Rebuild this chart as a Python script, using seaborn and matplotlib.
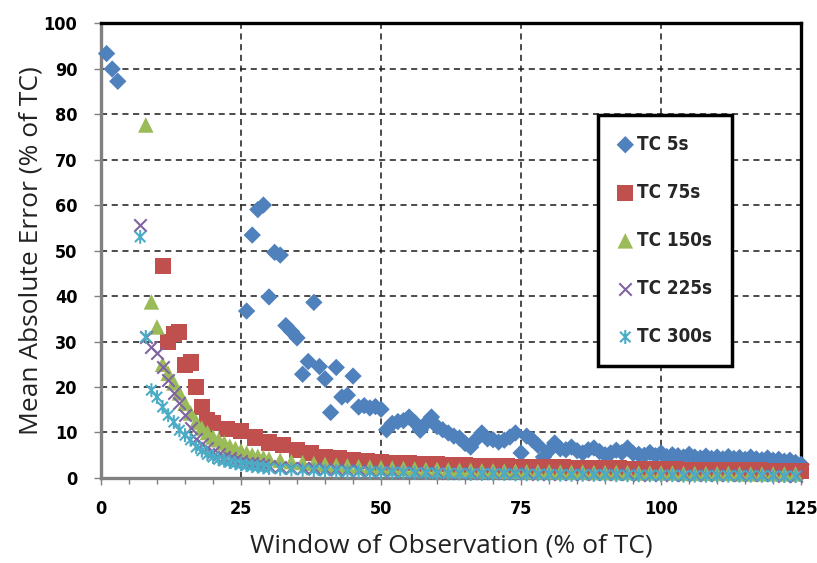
import matplotlib
matplotlib.use("Agg")
import matplotlib.pyplot as plt
from matplotlib.path import Path
from matplotlib.ticker import MultipleLocator
from matplotlib.font_manager import FontProperties
import numpy as np
import pandas as pd
import seaborn as sns

# ---------------- data ----------------
series_names = ["TC 5s", "TC 75s", "TC 150s", "TC 225s", "TC 300s"]

x_tc5 = [1, 2, 3] + list(range(26, 126))
y_tc5 = [93.3, 89.9, 87.2,
         36.7, 53.4, 59.0, 60.0, 39.8, 49.6, 49.0, 33.5, 32.2, 30.8,
         22.8, 25.6, 38.6, 24.5, 21.8, 14.4, 24.3, 17.8, 18.2, 22.4,
         15.6, 15.9, 15.4, 15.7, 15.1, 10.6, 12.0, 12.4, 12.6, 13.4,
         12.2, 10.5, 12.0, 13.4, 11.3, 10.6, 9.9, 9.2, 8.8, 7.6,
         6.8, 8.5, 9.9, 8.6, 8.4, 7.9, 8.3, 9.0, 9.9, 5.5,
         9.2, 8.4, 7.2, 4.6, 6.0, 7.7, 6.4, 6.2, 6.8, 6.0,
         5.5, 6.2, 6.6, 5.8, 5.1, 5.5, 6.1, 5.6, 6.6, 5.4,
         5.2, 5.0, 5.6, 4.9, 5.5, 4.7, 5.1, 4.9, 4.6, 5.2,
         4.6, 4.4, 4.8, 4.3, 4.6, 4.2, 4.7, 4.3, 4.5, 4.1,
         4.6, 4.2, 4.0, 4.4, 3.9, 4.1, 3.7, 3.9, 3.4, 3.0]

x_tc75 = list(range(11, 21)) + [22.5 + 2.5 * i for i in range(42)]
y_tc75 = [46.6, 29.8, 31.6, 32.0, 24.8, 25.4, 20.0, 15.6, 12.8, 12.1,
          10.8, 10.3, 8.9, 7.8, 7.2, 6.1, 5.4, 4.6, 4.4, 4.0,
          3.7, 3.4, 3.3, 3.2, 3.1, 3.0, 2.9, 2.8, 2.7, 2.6,
          2.6, 2.5, 2.4, 2.3, 2.3, 2.2, 2.2, 2.1, 2.1, 2.0,
          2.0, 1.9, 1.9, 1.8, 1.8, 1.8, 1.7, 1.7, 1.7, 1.6,
          1.6, 1.6]

x_tc150 = list(range(8, 30)) + list(range(30, 126, 2))
y_tc150 = [77.6, 38.7, 33.2, 25.0, 23.0, 20.9, 18.7, 16.4, 14.3, 12.3,
           11.0, 10.0, 9.0, 8.4, 7.7, 7.0, 6.5, 6.0, 5.5, 5.1, 4.8, 4.5,
           4.2, 3.9, 3.6, 3.4, 3.2, 3.0, 2.8, 2.7, 2.5, 2.4,
           2.3, 2.2, 2.1, 2.0, 1.9, 1.9, 1.8, 1.7, 1.7, 1.6,
           1.6, 1.5, 1.5, 1.4, 1.4, 1.4, 1.3, 1.3, 1.3, 1.2,
           1.2, 1.2, 1.2, 1.1, 1.1, 1.1, 1.1, 1.0, 1.0, 1.0,
           1.0, 1.0, 0.9, 0.9, 0.9, 0.9, 0.9, 0.9]

x_tc225 = list(range(7, 30)) + list(range(30, 126, 2))
y_tc225 = [55.6, 31.0, 28.8, 27.4, 24.4, 21.5, 18.7, 16.4, 13.8, 11.0,
           8.5, 7.4, 6.5, 5.8, 5.2, 4.7, 4.3, 4.0, 3.7, 3.4, 3.2, 3.0, 2.8,
           2.7, 2.5, 2.3, 2.2, 2.1, 2.0, 1.9, 1.8, 1.7, 1.6,
           1.5, 1.5, 1.4, 1.4, 1.3, 1.3, 1.2, 1.2, 1.1, 1.1,
           1.1, 1.0, 1.0, 1.0, 0.9, 0.9, 0.9, 0.9, 0.8, 0.8,
           0.8, 0.8, 0.8, 0.7, 0.7, 0.7, 0.7, 0.7, 0.7, 0.6,
           0.6, 0.6, 0.6, 0.6, 0.6, 0.6, 0.5, 0.5]

x_tc300 = list(range(7, 30)) + list(range(30, 126, 2))
y_tc300 = [53.0, 31.0, 19.3, 17.8, 15.6, 13.8, 12.3, 10.5, 9.4, 8.4,
           6.8, 6.0, 5.2, 4.6, 4.1, 3.8, 3.5, 3.2, 3.0, 2.8, 2.6, 2.5, 2.3,
           2.2, 2.0, 1.9, 1.8, 1.7, 1.6, 1.5, 1.4, 1.4, 1.3,
           1.3, 1.2, 1.2, 1.1, 1.1, 1.0, 1.0, 1.0, 0.9, 0.9,
           0.9, 0.9, 0.8, 0.8, 0.8, 0.8, 0.7, 0.7, 0.7, 0.7,
           0.7, 0.6, 0.6, 0.6, 0.6, 0.6, 0.6, 0.5, 0.5, 0.5,
           0.5, 0.5, 0.5, 0.5, 0.5, 0.4, 0.4, 0.4]

x_ticks = [0, 25, 50, 75, 100, 125]
y_ticks = [0, 10, 20, 30, 40, 50, 60, 70, 80, 90, 100]

# ---------------- styling ----------------
sns.set_theme(style="white")
plt.rcParams["font.family"] = ["DejaVu Sans"]

colors = ["#4F81BD", "#C0504D", "#9BBB59", "#8064A2", "#4BACC6"]

# Excel-style asterisk: X plus a vertical bar
asterisk = Path([(0, -1), (0, 1), (-0.75, -0.75), (0.75, 0.75), (-0.75, 0.75), (0.75, -0.75)],
                [Path.MOVETO, Path.LINETO, Path.MOVETO, Path.LINETO, Path.MOVETO, Path.LINETO])

frames = []
for name, xs, ys in zip(series_names,
                        [x_tc5, x_tc75, x_tc150, x_tc225, x_tc300],
                        [y_tc5, y_tc75, y_tc150, y_tc225, y_tc300]):
    frames.append(pd.DataFrame({"window": xs, "mae": ys, "series": name}))
df = pd.concat(frames, ignore_index=True)

fig = plt.figure(figsize=(8.17, 5.63), dpi=100)
ax = fig.add_axes([0.1236, 0.151, 0.857, 0.808])

for name, col in zip(series_names, colors):
    sub = df[df["series"] == name]
    if name == "TC 5s":
        sns.scatterplot(data=sub, x="window", y="mae", marker="D", s=78, color=col,
                        linewidth=0, edgecolor="none", ax=ax, label=name, clip_on=False, zorder=3)
    elif name == "TC 75s":
        sns.scatterplot(data=sub, x="window", y="mae", marker="s", s=135, color=col,
                        linewidth=0, edgecolor="none", ax=ax, label=name, clip_on=False, zorder=3)
    elif name == "TC 150s":
        sns.scatterplot(data=sub, x="window", y="mae", marker="^", s=125, color=col,
                        linewidth=0, edgecolor="none", ax=ax, label=name, clip_on=False, zorder=3)
    elif name == "TC 225s":
        sns.scatterplot(data=sub, x="window", y="mae", marker="x", s=80, color=col,
                        linewidth=1.5, ax=ax, label=name, clip_on=False, zorder=3)
    else:
        sns.scatterplot(data=sub, x="window", y="mae", marker=asterisk, s=100,
                        facecolor="none", edgecolor=col, color=col, linewidth=1.5,
                        ax=ax, label=name, clip_on=False, zorder=3)

ax.set_xlim(0, 125)
ax.set_ylim(0, 100)
ax.set_xticks(x_ticks)
ax.set_yticks(y_ticks)
ax.xaxis.set_minor_locator(MultipleLocator(5))
ax.grid(True, which="major", color="#1a1a1a", linestyle=(0, (4, 3)), linewidth=1.1)
ax.set_axisbelow(True)

for side in ["top", "right"]:
    ax.spines[side].set_color("black")
    ax.spines[side].set_linewidth(2.4)
for side in ["left", "bottom"]:
    ax.spines[side].set_color("#808080")
    ax.spines[side].set_linewidth(2.4)

tick_fp = FontProperties(family=["DejaVu Sans"], weight="bold", stretch="condensed", size=13)
ax.tick_params(axis="y", which="major", direction="out", length=5, width=1,
               color="#808080", left=True, pad=12)
ax.tick_params(axis="x", which="major", direction="out", length=5, width=1,
               color="#808080", bottom=True, pad=11)
ax.tick_params(axis="x", which="minor", direction="out", length=4, width=1,
               color="#808080", bottom=True)
for lab in ax.get_xticklabels() + ax.get_yticklabels():
    lab.set_fontproperties(tick_fp)
    lab.set_color("black")

label_fp = FontProperties(family=["Open Sans", "DejaVu Sans"], size=19)
ax.set_xlabel("Window of Observation (% of TC)", fontproperties=label_fp,
              color="#222222", labelpad=11)
ax.set_ylabel("Mean Absolute Error (% of TC)", fontproperties=label_fp,
              color="#222222", labelpad=0)

leg_fp = FontProperties(family=["DejaVu Sans"], weight="bold", stretch="condensed", size=13.5)
leg = ax.legend(loc="upper left", bbox_to_anchor=(0.71, 0.798), frameon=True, fancybox=False,
                edgecolor="black", framealpha=1, borderpad=1.05, labelspacing=1.55,
                handlelength=0.8, handletextpad=0.25, borderaxespad=0, prop=leg_fp)
leg.get_frame().set_linewidth(2.5)

fig.savefig("out.png", dpi=100)
